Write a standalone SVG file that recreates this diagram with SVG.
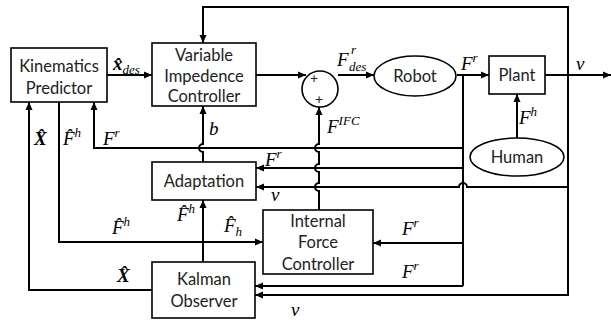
<svg xmlns="http://www.w3.org/2000/svg" width="611" height="322" viewBox="0 0 611 322">
  <style>
    .box { fill: #fff; stroke: #000; stroke-width: 1.6; }
    .lbl { font-family: Lato, "Open Sans", sans-serif; font-size: 16.5px; fill: #222; text-anchor: middle; }
    .m { font-family: "Liberation Serif", "DejaVu Serif", serif; font-style: italic; font-size: 19px; fill: #000; }
    .sup { font-size: 13px; }
    .w { fill: none; stroke: #000; stroke-width: 2; }
    .a { marker-end: url(#arr); }
  </style>
  <defs>
    <marker id="arr" markerUnits="userSpaceOnUse" markerWidth="9" markerHeight="8" refX="8" refY="4" orient="auto">
      <path d="M0,0.5 L8,4 L0,7.5 z" fill="#000"/>
    </marker>
  </defs>
  <rect width="611" height="322" fill="#fff"/>

  <!-- connectors -->
  <g id="connectors">
    <!-- predictor to impedance controller -->
    <path class="w a" d="M107,75 H152"/>
    <!-- impedance controller to summing junction -->
    <path class="w a" d="M256,75 H306"/>
    <!-- summing junction to robot -->
    <path class="w a" d="M338,75 H374"/>
    <!-- robot to plant -->
    <path class="w a" d="M457,75 H489"/>
    <!-- plant output v -->
    <path class="w a" d="M545,75 H611"/>
    <!-- v feedback loop: top to controller, down to observer -->
    <path class="w a" d="M568,75 V7 H203 V43"/>
    <path class="w a" d="M568,75 V295 H255"/>
    <!-- v into adaptation (hops over F^r bus) -->
    <path class="w a" d="M568,187 H467 a4,4 0 0 0 -8,0 H256"/>
    <!-- F^r bus -->
    <path class="w" d="M463,75 V286"/>
    <path class="w a" d="M463,286 H255"/>
    <path class="w a" d="M463,243 H373"/>
    <path class="w a" d="M463,168 H256"/>
    <path class="w a" d="M463,148 H94 V102"/>
    <!-- human force into plant -->
    <path class="w a" d="M517,138 V94"/>
    <!-- F^IFC up to summing junction, hopping over three lines -->
    <path class="w a" d="M319,210 V191 a4,4 0 0 1 0,-8 V172 a4,4 0 0 1 0,-8 V152 a4,4 0 0 1 0,-8 V107"/>
    <!-- b from adaptation up to controller -->
    <path class="w a" d="M203,162 V152 a4,4 0 0 1 0,-8 V106"/>
    <!-- observer force estimate -->
    <path class="w a" d="M203,262 V200"/>
    <path class="w a" d="M59,102 V242 H263"/>
    <!-- observer state estimate -->
    <path class="w a" d="M152,290 H29 V102"/>
  </g>

  <!-- nodes -->
  <g id="kinematics-predictor">
    <rect class="box" x="11" y="48" width="96" height="54"/>
    <text class="lbl" x="59" y="72">Kinematics</text>
    <text class="lbl" x="59" y="94">Predictor</text>
  </g>
  <g id="impedance-controller">
    <rect class="box" x="152" y="43" width="104" height="63"/>
    <text class="lbl" x="204" y="61">Variable</text>
    <text class="lbl" x="204" y="82">Impedence</text>
    <text class="lbl" x="204" y="102">Controller</text>
  </g>
  <g id="sum">
    <circle cx="320" cy="89" r="18" fill="#fff" stroke="#000" stroke-width="1.6"/>
    <text class="lbl" x="314" y="83" style="font-size:14px">+</text>
    <text class="lbl" x="319" y="104" style="font-size:14px">+</text>
  </g>
  <g id="robot">
    <ellipse cx="415" cy="76" rx="41" ry="20" fill="#fff" stroke="#000" stroke-width="1.6"/>
    <text class="lbl" x="415" y="82">Robot</text>
  </g>
  <g id="plant">
    <rect class="box" x="489" y="56" width="56" height="38"/>
    <text class="lbl" x="517" y="81">Plant</text>
  </g>
  <g id="human">
    <ellipse cx="517" cy="157" rx="47" ry="19" fill="#fff" stroke="#000" stroke-width="1.6"/>
    <text class="lbl" x="517" y="163">Human</text>
  </g>
  <g id="adaptation">
    <rect class="box" x="152" y="162" width="104" height="38"/>
    <text class="lbl" x="204" y="187">Adaptation</text>
  </g>
  <g id="internal-force-controller">
    <rect class="box" x="263" y="210" width="110" height="64"/>
    <text class="lbl" x="318" y="227">Internal</text>
    <text class="lbl" x="318" y="248">Force</text>
    <text class="lbl" x="318" y="270">Controller</text>
  </g>
  <g id="kalman-observer">
    <rect class="box" x="152" y="262" width="103" height="56"/>
    <text class="lbl" x="204" y="285">Kalman</text>
    <text class="lbl" x="204" y="307">Observer</text>
  </g>

  <!-- signal labels -->
  <g id="labels">
    <text class="m" x="113" y="70"><tspan font-weight="bold">x&#x302;</tspan><tspan class="sup" dy="4">des</tspan></text>
    <text class="m" x="337" y="66">F</text>
    <text class="m sup" x="351" y="54">r</text>
    <text class="m sup" x="349" y="71">des</text>
    <text class="m" x="461" y="70">F<tspan class="sup" dy="-8">r</tspan></text>
    <text class="m" x="576" y="70">v</text>
    <text class="m" x="519" y="124">F<tspan class="sup" dy="-8">h</tspan></text>
    <text class="m" x="327" y="133">F<tspan class="sup" dy="-8">IFC</tspan></text>
    <text class="m" x="209" y="135">b</text>
    <text class="m" x="34" y="145" font-weight="bold">X&#x302;</text>
    <text class="m" x="63" y="145">F&#x302;<tspan class="sup" dy="-8">h</tspan></text>
    <text class="m" x="103" y="145">F<tspan class="sup" dy="-8">r</tspan></text>
    <text class="m" x="265" y="166">F<tspan class="sup" dy="-8">r</tspan></text>
    <text class="m" x="271" y="201">v</text>
    <text class="m" x="177" y="221">F&#x302;<tspan class="sup" dy="-8">h</tspan></text>
    <text class="m" x="112" y="234">F&#x302;<tspan class="sup" dy="-8">h</tspan></text>
    <text class="m" x="224" y="232">F&#x302;<tspan class="sup" dy="4">h</tspan></text>
    <text class="m" x="402" y="235">F<tspan class="sup" dy="-8">r</tspan></text>
    <text class="m" x="402" y="278">F<tspan class="sup" dy="-8">r</tspan></text>
    <text class="m" x="117" y="282" font-weight="bold">X&#x302;</text>
    <text class="m" x="291" y="316">v</text>
  </g>
</svg>
